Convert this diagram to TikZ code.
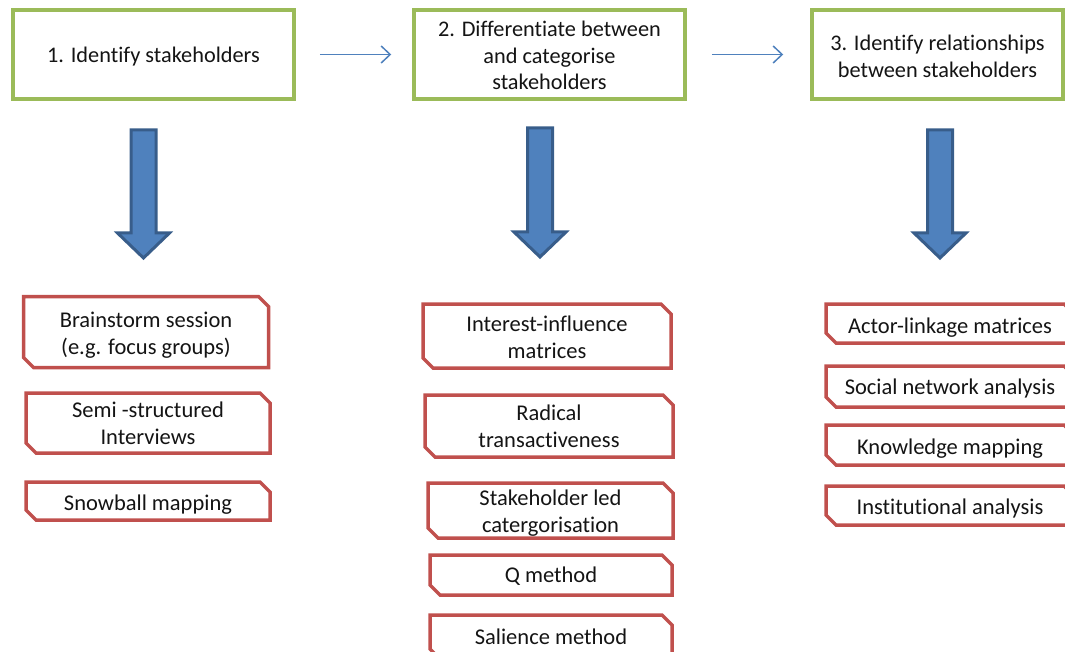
\documentclass[tikz,border=0pt]{standalone}
\usepackage{fontspec}
\setmainfont{Carlito}[Ligatures={NoCommon}]
\usetikzlibrary{arrows.meta}
\definecolor{gbord}{HTML}{9BBB59}
\definecolor{rbord}{HTML}{C0504D}
\definecolor{bfill}{HTML}{4F81BD}
\definecolor{bline}{HTML}{385D8A}
\definecolor{txt}{HTML}{141414}
\tikzset{
  stage/.style={draw=gbord,line width=3.5pt,fill=white,inner sep=0pt},
  stagetext/.style={align=center,inner sep=0pt,font=\fontsize{22.3}{26.5}\selectfont,text=txt},
  method/.style={align=center,inner sep=0pt,
    font=\fontsize{22.5}{27}\selectfont,text=txt},
  snip/.style={draw=rbord,line width=3.5pt,line join=miter},
  flow/.style={draw=bfill,line width=1.5pt,-{Straight Barb[length=9pt,width=17pt]}},
  blockarrow/.style={fill=bfill,draw=bline,line width=3pt,line join=miter}
}
\newcommand\blockdown[3]{% x, ytop, ytip
  \draw[blockarrow] (#1-12.5,#2) -- (#1+12.5,#2) -- (#1+12.5,#3-25) -- (#1+26,#3-25)
    -- (#1,#3) -- (#1-26,#3-25) -- (#1-12.5,#3-25) -- cycle;}
% name, x1, y1, x2, y2, text dy, text
\newcommand\methodbox[7]{%
  \draw[snip] (#2,#3) -- (#4-10,#3) -- (#4,#3+10) -- (#4,#5) -- (#2+10,#5) -- (#2,#5-10) -- cycle;
  \node[method] (#1) at ({(#2+#4)/2},{(#3+#5)/2+#6}) {#7};}
\begin{document}
\begin{tikzpicture}[x=1pt,y=-1pt]
\useasboundingbox (0,0) rectangle (1065,652);
\clip (0,0) rectangle (1065,652);
% stages
\node[stage,minimum width=281pt,minimum height=89pt] (s1) at (153.5,54.5) {};
\node[stage,minimum width=271pt,minimum height=89pt] (s2) at (549.5,54.5) {};
\node[stage,minimum width=251pt,minimum height=89pt] (s3) at (937.5,54.5) {};
\node[stagetext] (t1) at (153.5,56.5) {1. Identify stakeholders};
\node[stagetext] (t2) at (549.5,55.5) {2. Differentiate between\\and categorise\\stakeholders};
\node[stagetext] (t3) at (937.5,56.5) {3. Identify relationships\\between stakeholders};
\draw[flow,shorten <=24pt,shorten >=21pt] (s1.east) -- (s2.west);
\draw[flow,shorten <=25pt,shorten >=27pt] (s2.east) -- (s3.west);
% block arrows
\blockdown{143.5}{130}{258}
\blockdown{540}{128}{257}
\blockdown{940}{130}{258}
% column 1
\methodbox{a1}{23.5}{296.5}{268.5}{367.5}{3.5}{Brainstorm session\\(e.g. focus groups)}
\methodbox{a2}{26}{393}{270}{453}{0}{Semi -structured\\Interviews}
\methodbox{a3}{26}{482}{270}{520}{3.5}{Snowball mapping}
% column 2
\methodbox{b1}{423}{304}{671}{368}{1}{Interest-influence\\matrices}
\methodbox{b2}{425}{395}{673}{457}{0}{Radical\\transactiveness}
\methodbox{b3}{428}{483}{673}{538}{3}{Stakeholder led\\catergorisation}
\methodbox{b4}{430}{555}{672}{595}{1}{Q method}
\methodbox{b5}{430}{615}{672}{659}{0}{Salience method}
% column 3
\methodbox{c1}{826}{304}{1074}{343}{4}{Actor-linkage matrices}
\methodbox{c2}{826}{366}{1074}{407}{2}{Social network analysis}
\methodbox{c3}{826}{425}{1074}{465}{4}{Knowledge mapping}
\methodbox{c4}{826}{486}{1074}{525}{3}{Institutional analysis}
\end{tikzpicture}
\end{document}
